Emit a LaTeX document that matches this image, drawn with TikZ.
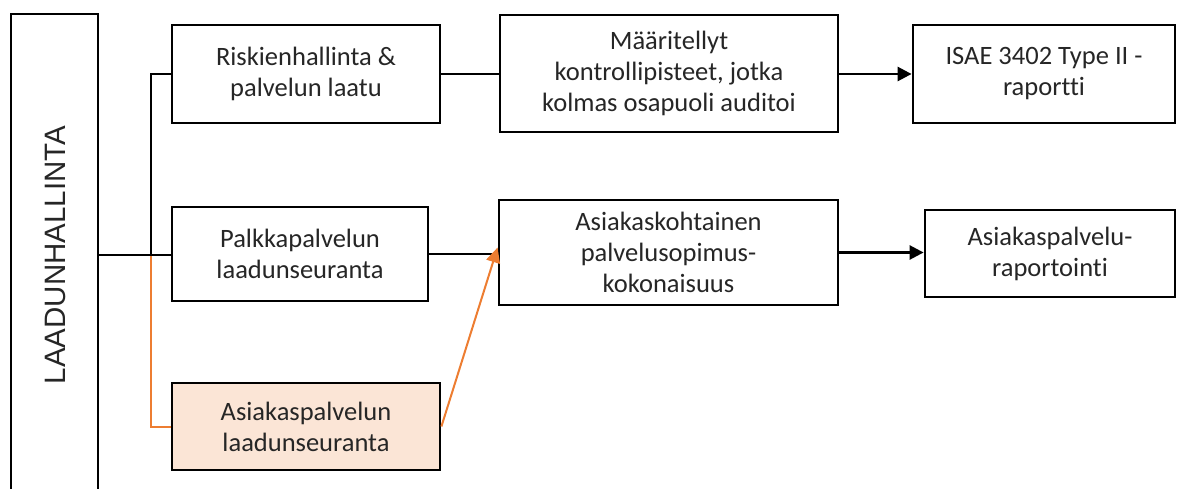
\documentclass[tikz,border=0pt]{standalone}
\usepackage{fontspec}
\setmainfont{Carlito}[Ligatures=NoCommon]
\newfontfamily\titlefont{Liberation Sans}
\usetikzlibrary{arrows.meta}
\definecolor{accent}{HTML}{ED7D31}
\definecolor{peach}{HTML}{FBE5D6}
\definecolor{ink}{HTML}{262626}
\begin{document}
\begin{tikzpicture}[x=1pt,y=-1pt,
  box/.style={draw=black,line width=2.8pt,fill=white,align=center,inner sep=0pt,
    text=ink,font=\fontsize{26.5}{31}\selectfont},
  link/.style={draw=black,line width=2.6pt},
  orangelink/.style={draw=accent,line width=2pt},
  tip/.style={-{Triangle[length=14pt,width=14pt]}}]
\useasboundingbox (0,0) rectangle (1189,489);
% vertical title bar
\draw[line width=2.8pt] (11,495) -- (11,14) -- (98,14) -- (98,495);
\node[rotate=90,text=ink,font=\titlefont\fontsize{29.5}{30}\selectfont] (title) at (55,255) {LAADUNHALLINTA};
\coordinate (root) at (98,255);
% first column
\node[box,minimum width=268pt,minimum height=98pt] (risk) at (306,74) {Riskienhallinta \&\\palvelun laatu};
\node[box,minimum width=256pt,minimum height=94pt] (palkka) at (300,254) {Palkkapalvelun\\laadunseuranta};
\node[box,fill=peach,minimum width=268pt,minimum height=87pt] (asiak) at (306,426.5) {Asiakaspalvelun\\laadunseuranta};
% second column
\node[box,minimum width=338pt,minimum height=117pt] (kontr) at (669,73.5) {Määritellyt\\kontrollipisteet, jotka\\kolmas osapuoli auditoi};
\node[box,minimum width=339pt,minimum height=105pt] (sopimus) at (668.5,252.5) {Asiakaskohtainen\\palvelusopimus-\\kokonaisuus};
% third column
\node[box,minimum width=262pt,minimum height=98pt] (isae) at (1044,74) {ISAE 3402 Type II -\\raportti};
\node[box,minimum width=250pt,minimum height=87pt] (raport) at (1050,253.5) {Asiakaspalvelu-\\raportointi};
% tree from the title bar
\coordinate (fork) at (151,255);
\draw[orangelink] (fork) |- (asiak.west);
\draw[link] (root) -- (palkka.west |- root);
\draw[link] (fork) |- (risk.west);
% flows between the columns
\draw[link] (risk.east) -- (kontr.west |- risk.east);
\draw[link] (palkka.east) -- (sopimus.west |- palkka.east);
\draw[link,tip] (kontr.east |- isae.west) -- (isae.west);
\draw[link,tip] (sopimus.east) -- (raport.west |- sopimus.east);
\draw[orangelink,-{Triangle[length=15pt,width=14pt]}] (asiak.east) -- ([yshift=5pt]sopimus.west);
\end{tikzpicture}
\end{document}
